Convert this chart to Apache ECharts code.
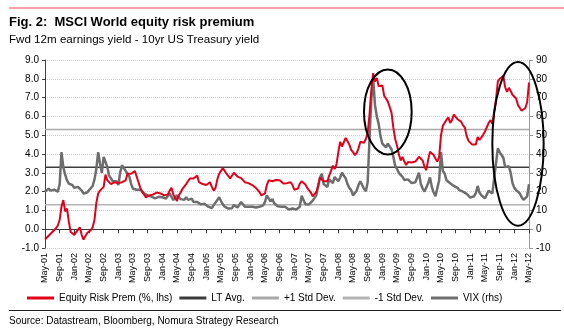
<!DOCTYPE html>
<html><head><meta charset="utf-8">
<script src="https://cdn.jsdelivr.net/npm/echarts@6/dist/echarts.min.js"></script>
<style>html,body{margin:0;padding:0;background:#fff}#c{width:564px;height:330px}</style>
</head><body><div id="c"></div>
<script>
// Tick labels (every 4 months); data points are semi-monthly (8 points per tick step)
const tickLabels = ["May-01","Sep-01","Jan-02","May-02","Sep-02","Jan-03","May-03","Sep-03","Jan-04","May-04","Sep-04","Jan-05","May-05","Sep-05","Jan-06","May-06","Sep-06","Jan-07","May-07","Sep-07","Jan-08","May-08","Sep-08","Jan-09","May-09","Sep-09","Jan-10","May-10","Sep-10","Jan-11","May-11","Sep-11","Jan-12","May-12"];

// Equity risk premium (%, lhs), semi-monthly May-01 .. May-12
const erp = [
-0.55,-0.45,-0.35,-0.4,-0.15,-0.1,0.05,0.2,0.5,1.2,
1.55,0.95,1.1,0.4,-0.15,-0.25,-0.3,-0.15,-0.05,0.1,
-0.3,-0.55,-0.6,-0.2,-0.15,-0.05,0.1,0.5,1.4,1.9,
2.05,2.1,2.25,2.9,2.6,2.7,2.4,2.3,2.5,2.6,
2.45,2.5,2.5,2.55,2.6,2.95,2.85,2.95,3.0,3.1,
3.2,2.5,2.2,2.0,1.85,1.7,1.75,1.8,1.8,1.85,
1.9,1.95,2.0,1.9,1.9,1.8,1.75,1.85,2.05,2.2,
1.85,1.9,1.5,1.8,1.95,2.15,2.2,2.4,2.55,2.7,
2.6,2.7,2.8,2.85,2.5,2.4,2.4,2.45,2.35,2.45,
2.5,2.25,2.05,2.2,2.65,2.95,3.1,3.25,3.15,2.95,
2.85,2.7,2.8,3.0,3.0,2.8,2.75,2.72,2.62,2.5,
2.6,2.45,2.43,2.35,2.32,2.2,2.1,1.98,1.8,1.72,
1.9,2.35,2.6,2.52,2.55,2.6,2.62,2.7,2.6,2.52,
2.43,2.35,2.45,2.55,2.5,2.35,2.1,2.0,2.16,2.43,
2.55,2.5,2.38,2.2,2.12,1.95,1.75,1.8,1.98,2.3,
2.75,2.8,2.55,2.5,2.55,2.85,3.1,3.38,3.2,3.45,
4.1,4.65,4.4,4.45,4.85,4.9,4.5,4.22,4.1,3.94,
4.05,4.3,4.65,4.65,4.6,4.8,5.1,6.1,7.4,8.3,
7.85,8.05,7.6,7.6,7.65,7.1,7.15,6.8,6.86,6.2,
5.4,4.8,4.45,4.0,3.65,3.85,3.6,3.42,3.58,3.5,
3.55,3.6,3.6,3.6,3.85,3.9,3.65,3.32,3.14,3.7,
4.12,4.15,3.95,3.75,3.6,3.85,5.0,5.5,5.44,5.82,
5.95,5.65,5.8,6.1,6.15,5.85,5.88,5.72,5.53,5.4,
4.95,4.7,4.6,4.5,4.58,4.5,4.9,4.75,4.82,5.02,
5.2,5.3,5.65,5.8,5.6,5.65,6.9,7.85,8.0,7.95,
8.15,7.55,7.3,7.52,7.35,7.15,7.05,6.95,6.6,6.65,
6.3,6.2,6.45,6.75,7.8
];

// VIX (rhs), semi-monthly May-01 .. May-12
const vix = [
20,21,21.6,20.5,20.7,21,21.6,20,24,41,
33,29,26,24.3,23.5,23.4,22,21.6,22.5,21.5,
20.5,19,18,19.5,20.7,21,23,26.5,32,41,
35,30,38.5,39.4,33,28.5,27.5,25.5,25,25.5,
23.5,30,34,32.5,31,29.5,28,24,21.5,21,
21,21.5,21,20,19,18,18,17.8,17.3,17,
16.4,16.8,17.2,17.2,17,16.5,16.3,16.5,19,19,
15.5,14.5,18,17,16,15.8,15.6,17,15.6,14.6,
16.3,14.5,13.8,14.5,14.2,13.2,12.2,13.5,12.8,12,
12.8,11.2,12.8,13.8,15.5,17,15,13.2,12,11.9,
11,11.9,11.2,12.8,13.5,11.5,11.8,14.5,15,12,
11,11.9,11,12,12.5,11.5,11.5,11.9,11.9,12.7,
14.5,18,17,14.8,16,13.8,12.8,12.2,12.6,12,
11,11.9,11,10.5,10.8,11,11,10.5,10.1,12,
17.8,15.5,13.3,13.2,13.2,14,15.2,16.2,18,23,
27.5,29.5,24,23.4,22.5,26.5,26.5,24.5,27.8,28.5,
25.5,27.5,30,30.5,27,24,22,20.8,18,17.5,
20.5,23.5,25.5,24.5,21.5,20.2,25,48,69.5,80,
66,60,56,49.5,45.5,46.5,43.5,45.5,46.5,42.5,
38.5,33.8,32,30,29.6,27.8,26.2,25.3,26.5,26,
24.5,25.5,25,24.5,30,24,21.6,20,20.7,24.5,
27.5,22.5,19.5,17.6,17.5,26,41,31,29.6,26,
26.8,24.5,25,23,22.9,22,20.8,21.5,20,20.5,
18.8,17.8,16.8,17,17.5,19.2,23,19.5,18,17.2,
16.5,18.5,20.5,20.8,19,20,35,43,41,42,
38,33,32,33.5,30,24.5,22,20.8,20,19,
17,15.6,16.5,17.5,24
];

const ltAvg = 3.3;
const stdDev = 2.0;

const seriesNames = ["Equity Risk Prem (%, lhs)", "LT Avg.", "+1 Std Dev.", "-1 Std Dev.", "VIX (rhs)"];

// Half-month category ids
const categories = erp.map((_, i) => 'p' + i);
const STEP = 8;

// Hand-drawn ellipse annotations (data space: center category index/value, radii in categories/values)
const annotations = [
  {cat: 186.5, val: 6.24, rCat: 13.6, rVal: 2.26},
  {cat: 258.1, val: 4.54, rCat: 13.7, rVal: 4.35}
];

const FONT = '"Liberation Sans", Arial, sans-serif';
const chart = echarts.init(document.getElementById('c'), null, {renderer: 'canvas'});

const flat = v => categories.map(() => v);
const tickInterval = (i) => i % STEP === 0;

const option = {
  animation: false,
  backgroundColor: '#fff',
  textStyle: {fontFamily: FONT},
  grid: {left: 45, right: 35, top: 60, bottom: 82, containLabel: false},
  legend: {
    data: seriesNames, left: 27, top: 293, padding: 0,
    icon: 'rect', itemWidth: 27, itemHeight: 3, itemGap: 7,
    textStyle: {fontSize: 10, color: '#000', fontFamily: FONT}
  },
  xAxis: [
    {
      type: 'category', data: categories, boundaryGap: false, position: 'bottom',
      axisLine: {show: false, onZero: false}, axisTick: {show: false},
      splitLine: {show: false},
      axisLabel: {
        interval: tickInterval, rotate: 90, fontSize: 9, margin: 5, color: '#000', fontFamily: FONT,
        formatter: (v, i) => tickLabels[Math.round(i / STEP)]
      }
    },
    {
      type: 'category', data: categories, boundaryGap: false, position: 'top',
      axisLine: {show: true, onZero: true, lineStyle: {color: '#3a3a3a', width: 1}},
      axisTick: {show: true, inside: true, length: 4, interval: tickInterval, lineStyle: {color: '#3a3a3a'}},
      axisLabel: {show: false}, splitLine: {show: false}
    }
  ],
  yAxis: [
    {
      type: 'value', min: -1, max: 9, interval: 1, position: 'left',
      axisLine: {show: true, lineStyle: {color: '#404040'}},
      axisTick: {show: true, length: 3, lineStyle: {color: '#404040'}},
      axisLabel: {formatter: v => v.toFixed(1), fontSize: 10, margin: 6, color: '#000', fontFamily: FONT},
      splitLine: {show: true, lineStyle: {type: 'dotted', color: '#cccccc', width: 1}}
    },
    {
      type: 'value', min: -10, max: 90, interval: 10, position: 'right',
      axisLine: {show: true, lineStyle: {color: '#9a9a9a'}},
      axisTick: {show: true, length: 4, lineStyle: {color: '#9a9a9a'}},
      axisLabel: {fontSize: 10, margin: 7, color: '#000', fontFamily: FONT},
      splitLine: {show: false}
    }
  ],
  series: [
    {name: seriesNames[0], type: 'line', data: erp, yAxisIndex: 0, xAxisIndex: 0, symbol: 'none', z: 5,
     itemStyle: {color: '#e3001b'}, lineStyle: {color: '#e3001b', width: 2}},
    {name: seriesNames[1], type: 'line', data: flat(ltAvg), yAxisIndex: 0, xAxisIndex: 0, symbol: 'none', z: 3,
     itemStyle: {color: '#3c3c3c'}, lineStyle: {color: '#3c3c3c', width: 1.5}},
    {name: seriesNames[2], type: 'line', data: flat(ltAvg + stdDev), yAxisIndex: 0, xAxisIndex: 0, symbol: 'none', z: 3,
     itemStyle: {color: '#a8a8a8'}, lineStyle: {color: '#a8a8a8', width: 1.5}},
    {name: seriesNames[3], type: 'line', data: flat(ltAvg - stdDev), yAxisIndex: 0, xAxisIndex: 0, symbol: 'none', z: 3,
     itemStyle: {color: '#b4b4b4'}, lineStyle: {color: '#b4b4b4', width: 1.5}},
    {name: seriesNames[4], type: 'line', data: vix, yAxisIndex: 1, xAxisIndex: 0, symbol: 'none', z: 4,
     itemStyle: {color: '#6e6e6e'}, lineStyle: {color: '#6e6e6e', width: 2.5}}
  ],
  graphic: [
    {type: 'line', shape: {x1: 9, y1: 8, x2: 564, y2: 8}, style: {stroke: '#f4a0a6', lineWidth: 2}},
    {type: 'text', x: 9, y: 22, style: {text: 'Fig. 2:  MSCI World equity risk premium', font: 'bold 13px ' + FONT, fill: '#000', verticalAlign: 'middle'}},
    {type: 'text', x: 9, y: 39.5, style: {text: 'Fwd 12m earnings yield - 10yr US Treasury yield', font: '11.6px ' + FONT, fill: '#000', verticalAlign: 'middle'}},
    {type: 'line', shape: {x1: 9, y1: 310.5, x2: 561, y2: 310.5}, style: {stroke: '#222', lineWidth: 1}},
    {type: 'text', x: 9, y: 321.5, style: {text: 'Source: Datastream, Bloomberg, Nomura Strategy Research', font: '10px ' + FONT, fill: '#000', verticalAlign: 'middle'}}
  ]
};

chart.setOption(option);

// Ellipse annotations placed through the axes' scales
const ellipses = annotations.map(a => {
  const c = chart.convertToPixel({xAxisIndex: 0, yAxisIndex: 0}, [a.cat, a.val]);
  const e = chart.convertToPixel({xAxisIndex: 0, yAxisIndex: 0}, [a.cat + a.rCat, a.val + a.rVal]);
  return {type: 'ellipse', z: 100,
    shape: {cx: c[0], cy: c[1], rx: Math.abs(e[0] - c[0]), ry: Math.abs(c[1] - e[1])},
    style: {fill: 'transparent', stroke: '#000', lineWidth: 2}};
});
chart.setOption({graphic: option.graphic.concat(ellipses)});
</script>
</body></html>
